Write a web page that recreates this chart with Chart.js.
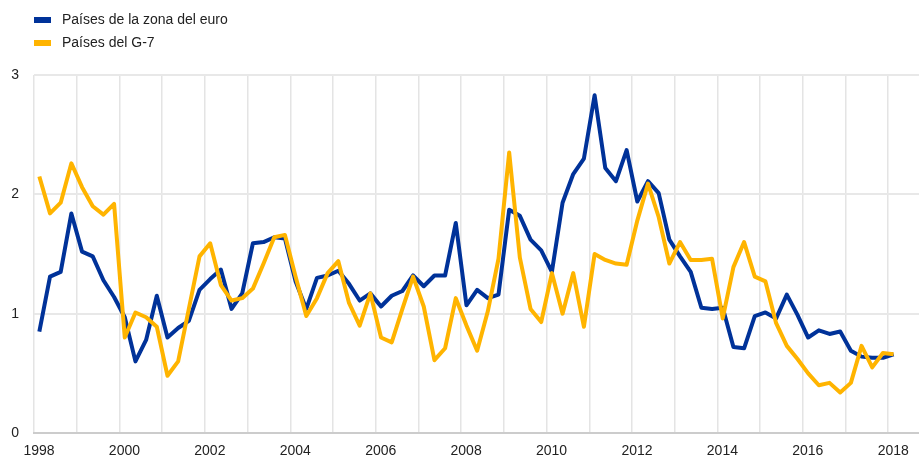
<!DOCTYPE html>
<html>
<head>
<meta charset="utf-8">
<script src="https://cdn.jsdelivr.net/npm/chart.js@4.4.0/dist/chart.umd.min.js"></script>
<style>
  body { margin: 0; background: #fff; }
  #wrap { width: 919px; height: 459px; position: relative; }
</style>
</head>
<body>
<div id="wrap"><canvas id="chart"></canvas></div>
<script>
// Quarterly data, 1998Q1 - 2018Q1
const startYear = 1998;
const yearTicks = [1998, 1999, 2000, 2001, 2002, 2003, 2004, 2005, 2006, 2007, 2008,
    2009, 2010, 2011, 2012, 2013, 2014, 2015, 2016, 2017, 2018];
const yTicks = [0, 1, 2, 3];

const euroArea = [
    0.85, 1.31, 1.35, 1.84, 1.52, 1.48, 1.28, 1.14, 0.97, 0.60,
    0.78, 1.15, 0.80, 0.88, 0.94, 1.20, 1.29, 1.37, 1.04, 1.17,
    1.59, 1.60, 1.64, 1.63, 1.27, 1.04, 1.30, 1.32, 1.36, 1.25,
    1.11, 1.17, 1.06, 1.15, 1.19, 1.32, 1.23, 1.32, 1.32, 1.76,
    1.07, 1.20, 1.13, 1.16, 1.87, 1.82, 1.62, 1.53, 1.35, 1.93,
    2.17, 2.30, 2.83, 2.22, 2.11, 2.37, 1.94, 2.11, 2.01, 1.62,
    1.48, 1.35, 1.05, 1.04, 1.05, 0.72, 0.71, 0.98, 1.01, 0.96,
    1.16, 0.99, 0.80, 0.86, 0.83, 0.85, 0.69, 0.64, 0.63, 0.63,
    0.66
];

const g7 = [
    2.15, 1.84, 1.93, 2.26, 2.06, 1.90, 1.83, 1.92, 0.80, 1.01,
    0.97, 0.89, 0.48, 0.60, 1.04, 1.48, 1.59, 1.24, 1.11, 1.13,
    1.21, 1.42, 1.64, 1.66, 1.31, 0.98, 1.13, 1.34, 1.44, 1.09,
    0.90, 1.17, 0.80, 0.76, 1.04, 1.31, 1.06, 0.61, 0.71, 1.13,
    0.90, 0.69, 1.02, 1.46, 2.35, 1.47, 1.04, 0.93, 1.34, 1.00,
    1.34, 0.89, 1.50, 1.45, 1.42, 1.41, 1.78, 2.09, 1.81, 1.42,
    1.60, 1.45, 1.45, 1.46, 0.96, 1.39, 1.60, 1.31, 1.27, 0.92,
    0.73, 0.62, 0.50, 0.40, 0.42, 0.34, 0.42, 0.73, 0.55, 0.67,
    0.66
];

const seriesNames = ['Países de la zona del euro', 'Países del G-7'];
const seriesColors = ['#003299', '#ffb400'];

// each quarter plotted at its mid point
const toPoints = arr => arr.map((v, i) => ({ x: startYear + (i + 0.5) / 4, y: v }));

const FONT = 'Arial, "Liberation Sans", sans-serif';

// Legend stacked top-left
const legendPlugin = {
    id: 'stackedLegend',
    afterDraw(chart) {
        const ctx = chart.ctx;
        ctx.save();
        ctx.font = '14px ' + FONT;
        ctx.textBaseline = 'middle';
        seriesNames.forEach((name, i) => {
            const y = 20 + i * 23;
            ctx.fillStyle = seriesColors[i];
            ctx.fillRect(34, y - 3, 17, 6);
            ctx.fillStyle = '#222';
            ctx.fillText(name, 62, y);
        });
        ctx.restore();
    }
};

new Chart(document.getElementById('chart').getContext('2d'), {
    type: 'line',
    data: {
        datasets: [
            {
                label: seriesNames[0],
                data: toPoints(euroArea),
                borderColor: seriesColors[0],
                borderWidth: 4,
                borderJoinStyle: 'round',
                pointRadius: 0,
                tension: 0,
                order: 1
            },
            {
                label: seriesNames[1],
                data: toPoints(g7),
                borderColor: seriesColors[1],
                borderWidth: 4,
                borderJoinStyle: 'round',
                pointRadius: 0,
                tension: 0,
                order: 0
            }
        ]
    },
    options: {
        responsive: true,
        maintainAspectRatio: false,
        animation: false,
        layout: { padding: { top: 75, right: 0, left: 0, bottom: 0 } },
        scales: {
            x: {
                type: 'linear',
                min: 1998,
                max: 2018.72,
                afterBuildTicks: scale => { scale.ticks = yearTicks.map(v => ({ value: v })); },
                afterFit: scale => { scale.height = 26; },
                grid: { color: '#e4e4e4', lineWidth: 1.5, drawTicks: false },
                border: { color: '#cccccc', width: 2 },
                ticks: {
                    autoSkip: false,
                    maxRotation: 0,
                    padding: 10,
                    labelOffset: 5,
                    color: '#222',
                    font: { family: FONT, size: 14 },
                    callback: v => (v % 2 === 0 ? String(v) : '')
                }
            },
            y: {
                min: 0,
                max: 3,
                afterBuildTicks: scale => { scale.ticks = yTicks.map(v => ({ value: v })); },
                afterFit: scale => { scale.width = 34; },
                grid: { color: '#e8e8e8', lineWidth: 2, drawTicks: false },
                border: { display: false },
                ticks: {
                    padding: 15,
                    color: '#222',
                    font: { family: FONT, size: 14 }
                }
            }
        },
        plugins: {
            legend: { display: false },
            tooltip: { enabled: false }
        }
    },
    plugins: [legendPlugin]
});
</script>
</body>
</html>
